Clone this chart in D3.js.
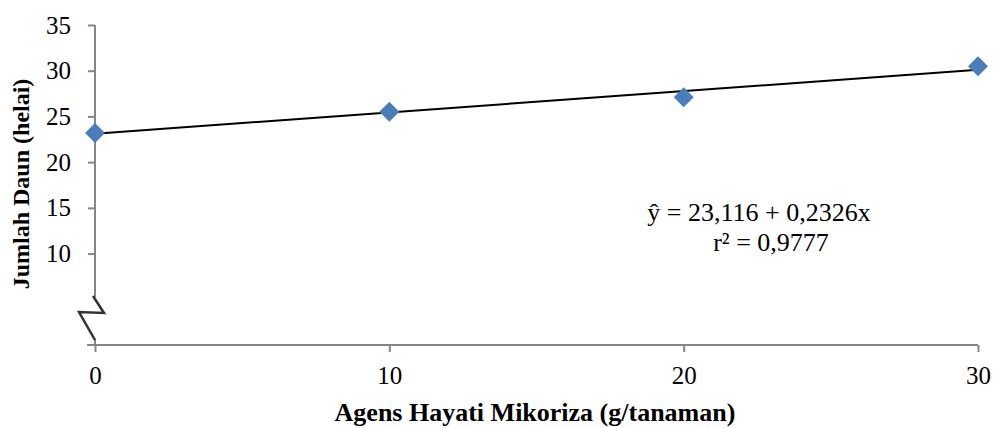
<!DOCTYPE html>
<html><head><meta charset="utf-8">
<script src="https://cdn.jsdelivr.net/npm/d3@7"></script>
<style>body{margin:0;background:#fff}svg{display:block}text{font-family:"Liberation Serif","Times New Roman",serif}</style>
</head><body><svg id="c" width="996" height="428"></svg>
<script>
const doses = [0, 10, 20, 30];
const leaves = [23.2, 25.5, 27.1, 30.5];
const xTicks = [0, 10, 20, 30];
const yTicks = [10, 15, 20, 25, 30, 35];
const intercept = 23.116, slope = 0.2326;
const eqLine1 = "ŷ = 23,116 + 0,2326x";
const eqLine2 = "r² = 0,9777";
const xTitle = "Agens Hayati Mikoriza (g/tanaman)";
const yTitle = "Jumlah Daun (helai)";

const svg = d3.select("#c");
const x = d3.scaleLinear().domain([0, 30]).range([95, 978]);
const y = d3.scaleLinear().domain([0, 35]).range([345, 25]);
const axisColor = "#868686";
const serif = '"Liberation Serif","Times New Roman",serif';

// x axis
const xa = svg.append("g").attr("transform", `translate(0,${y(0)})`)
  .call(d3.axisBottom(x).tickValues(xTicks).tickSize(7).tickPadding(14).tickFormat(d3.format("d")));
xa.select(".domain").attr("d", `M${x(0)-8},0H${x(30)}`);
// y axis
const ya = svg.append("g").attr("transform", `translate(${x(0)},0)`)
  .call(d3.axisLeft(y).tickValues(yTicks).tickSize(7).tickPadding(17).tickFormat(d3.format("d")));
ya.select(".domain").attr("d", `M0,${y(35)}V${y(0)}`);
[xa, ya].forEach(g => {
  g.selectAll("path,line").attr("stroke", axisColor).attr("stroke-width", 2);
  g.selectAll("text").attr("fill", "#000").style("font-size", "25px").style("font-family", serif);
});

// axis break
svg.append("rect").attr("x", x(0) - 14).attr("y", 297).attr("width", 28).attr("height", 42).attr("fill", "#fff");
svg.append("path")
  .attr("d", `M${x(0)-2},296 L${x(0)+9},313 L${x(0)-16},312 L${x(0)},340`)
  .attr("fill", "none").attr("stroke", "#333").attr("stroke-width", 2.5).attr("stroke-linejoin", "miter");

// regression line
svg.append("line")
  .attr("x1", x(0)).attr("y1", y(intercept))
  .attr("x2", x(30)).attr("y2", y(intercept + slope * 30))
  .attr("stroke", "#000").attr("stroke-width", 2);

// markers
const diamond = d3.symbol().type(d3.symbolSquare).size(200);
svg.append("g").selectAll("path").data(doses).join("path")
  .attr("d", diamond)
  .attr("transform", (d, i) => `translate(${x(d)},${y(leaves[i])}) rotate(45)`)
  .attr("fill", "#4a7ebb");

// equation
svg.append("text").attr("x", 759).attr("y", 221).attr("text-anchor", "middle")
  .style("font-size", "26px").text(eqLine1);
svg.append("text").attr("x", 771).attr("y", 251).attr("text-anchor", "middle")
  .style("font-size", "26px").text(eqLine2);

// titles
svg.append("text").attr("x", 535).attr("y", 421).attr("text-anchor", "middle")
  .style("font-size", "26px").style("font-weight", "bold").text(xTitle);
svg.append("text").attr("transform", "translate(29,184) rotate(-90)").attr("text-anchor", "middle")
  .style("font-size", "24px").style("font-weight", "bold").text(yTitle);
</script></body></html>
